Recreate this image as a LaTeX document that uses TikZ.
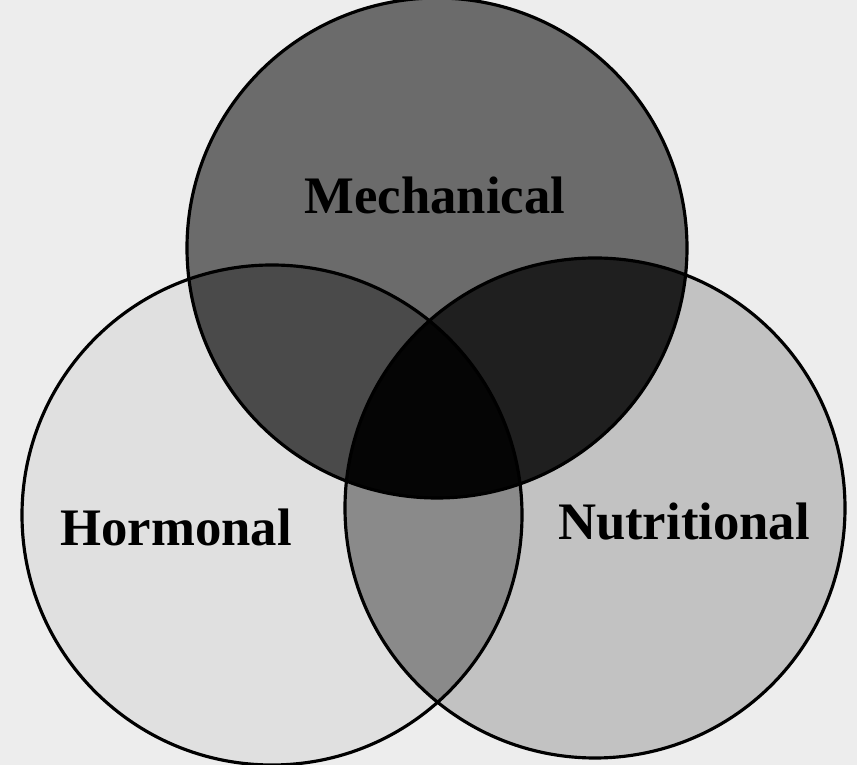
\documentclass[tikz,border=0pt]{standalone}
\usepackage{fontspec}
\setmainfont{Liberation Serif}
\usepackage{tikz}
\usetikzlibrary{positioning, calc}

\begin{document}
\begin{tikzpicture}[
    font=\fontsize{15}{18}\selectfont\bfseries,
    ring/.style={draw, line width=0.9pt},
    label/.style={inner sep=0pt, text=black},
    horm/.style={fill=black!12},
    nutr/.style={fill=black!24},
    mech/.style={fill=black!58},
    mechhorm/.style={fill=black!71},
    mechnutr/.style={fill=black!88},
    hormnutr/.style={fill=black!46},
    core/.style={fill=black!98}
]

% page and background
\useasboundingbox (0,0) rectangle (8.57,7.65);
\fill[black!7] (0,0) rectangle (8.57,7.65);
\clip (0,0) rectangle (8.57,7.65);

\coordinate (mechc) at (4.37,5.17);
\coordinate (hormc) at (2.72,2.50);
\coordinate (nutrc) at (5.95,2.57);

% single sets
\fill[horm] (hormc) circle (2.5);
\fill[nutr] (nutrc) circle (2.5);
\fill[mech] (mechc) circle (2.5);

% pairwise overlaps
\begin{scope}
  \clip (hormc) circle (2.5);
  \fill[hormnutr] (nutrc) circle (2.5);
\end{scope}
\begin{scope}
  \clip (mechc) circle (2.5);
  \fill[mechhorm] (hormc) circle (2.5);
\end{scope}
\begin{scope}
  \clip (mechc) circle (2.5);
  \fill[mechnutr] (nutrc) circle (2.5);
\end{scope}

% all three
\begin{scope}
  \clip (mechc) circle (2.5);
  \clip (hormc) circle (2.5);
  \fill[core] (nutrc) circle (2.5);
\end{scope}

% outlines
\draw[ring] (hormc) circle (2.5);
\draw[ring] (nutrc) circle (2.5);
\draw[ring] (mechc) circle (2.5);

\node[label] (mechtext) at (4.35,5.70) {Mechanical};
\node[label] (hormtext) at (1.76,2.38) {Hormonal};
\node[label] (nutrtext) at (6.84,2.43) {Nutritional};

\end{tikzpicture}
\end{document}
